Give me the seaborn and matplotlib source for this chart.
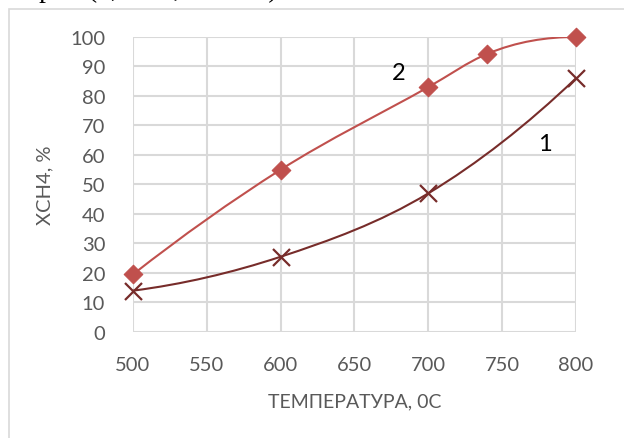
import numpy as np
import pandas as pd
import seaborn as sns
import matplotlib.pyplot as plt
from matplotlib.path import Path
from matplotlib.patches import PathPatch, Rectangle

# Data
temp_1 = [500, 600, 700, 800]
xch4_1 = [14, 25.5, 47, 86]
temp_2 = [500, 600, 700, 740, 800]
xch4_2 = [19.5, 55, 83, 94.3, 100]

x_ticks = [500, 550, 600, 650, 700, 750, 800]
y_ticks = [0, 10, 20, 30, 40, 50, 60, 70, 80, 90, 100]

color_1 = "#772C2A"
color_2 = "#C0504D"
grid_color = "#D9D9D9"
text_gray = "#595959"


def smooth_path(xs, ys):
    """
    Build a smooth Bezier path through the points (local parabola slopes),
    close to the smoothed lines of a spreadsheet chart.
    """
    x = np.asarray(xs, dtype=float)
    y = np.asarray(ys, dtype=float)
    h = np.diff(x)
    s = np.diff(y) / h
    n = len(x)
    m = np.zeros(n)
    for i in range(1, n - 1):
        m[i] = (h[i] * s[i - 1] + h[i - 1] * s[i]) / (h[i - 1] + h[i])
    m[0] = 2 * s[0] - m[1]
    m[-1] = 2 * s[-1] - m[-2]
    # keep the end slopes from turning the curve back
    if m[0] * s[0] < 0:
        m[0] = 0
    if m[-1] * s[-1] < 0:
        m[-1] = 0
    verts = [(x[0], y[0])]
    codes = [Path.MOVETO]
    for i in range(n - 1):
        verts += [(x[i] + h[i] / 3, y[i] + m[i] * h[i] / 3),
                  (x[i + 1] - h[i] / 3, y[i + 1] - m[i + 1] * h[i] / 3),
                  (x[i + 1], y[i + 1])]
        codes += [Path.CURVE4] * 3
    return Path(verts, codes)


sns.set_theme(style="white")
plt.rcParams['font.family'] = ['Lato', 'DejaVu Sans']

fig = plt.figure(figsize=(6.24, 4.39), dpi=100)
ax = fig.add_axes([0.213, 0.2415, 0.710, 0.672])

# Smoothed curves
ax.add_patch(PathPatch(smooth_path(temp_2, xch4_2), facecolor="none",
                       edgecolor=color_2, lw=1.5, zorder=3))
ax.add_patch(PathPatch(smooth_path(temp_1, xch4_1), facecolor="none",
                       edgecolor=color_1, lw=1.5, zorder=3))

# Markers
df1 = pd.DataFrame({"t": temp_1, "x": xch4_1})
df2 = pd.DataFrame({"t": temp_2, "x": xch4_2})
sns.scatterplot(data=df2, x="t", y="x", marker="D", s=90, color=color_2,
                edgecolor=color_2, ax=ax, zorder=4, clip_on=False)
sns.scatterplot(data=df1, x="t", y="x", marker="x", s=150, color=color_1,
                linewidth=1.6, ax=ax, zorder=4, clip_on=False)

ax.set_xlim(500, 800)
ax.set_ylim(0, 100)
ax.set_xticks(x_ticks)
ax.set_yticks(y_ticks)
ax.grid(True, color=grid_color, lw=1.5)
for sp in ax.spines.values():
    sp.set_visible(False)
ax.tick_params(axis="y", length=0, labelsize=14.5, labelcolor=text_gray, pad=20)
ax.tick_params(axis="x", length=0, labelsize=14.5, labelcolor=text_gray, pad=17)

ax.set_xlabel("ТЕМПЕРАТУРА, 0С", fontsize=14, color=text_gray, labelpad=14)
ax.set_ylabel("XCH4, %", fontsize=14.5, color=text_gray, labelpad=12)

ax.text(680, 88, "2", fontsize=17, color="black", ha="center", va="center")
ax.text(779, 64, "1", fontsize=17, color="black", ha="center", va="center")

# Chart border and clipped caption above
fig.patches.append(Rectangle((8.5 / 624, -0.1), 1.2, 1.1 - 9.5 / 439,
                             transform=fig.transFigure, fill=False,
                             edgecolor=grid_color, lw=1.2))
fig.text(0.0, 1 + 3 / 439, "натрия (0,7 – 2,1 · 10⁻³).", fontsize=20,
         family=["Liberation Serif", "DejaVu Serif"], color="black",
         ha="left", va="baseline")

fig.savefig("out.png", dpi=100)
